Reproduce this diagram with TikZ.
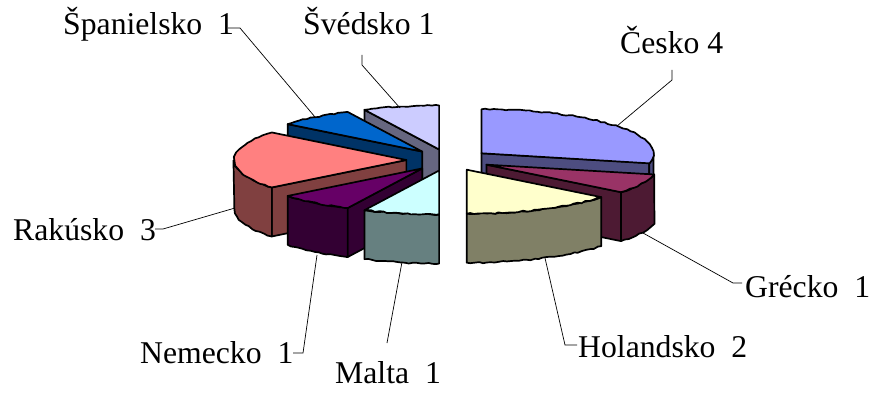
\documentclass[tikz,border=0pt]{standalone}
\usepackage{fontspec}
\setmainfont{Liberation Serif}
\usetikzlibrary{calc,decorations.pathmorphing}
\definecolor{cesT}{HTML}{9999FF}\definecolor{cesS}{HTML}{4D4D80}
\definecolor{greT}{HTML}{993366}\definecolor{greS}{HTML}{4D1A33}
\definecolor{holT}{HTML}{FFFFCC}\definecolor{holS}{HTML}{808066}
\definecolor{malT}{HTML}{CCFFFF}\definecolor{malS}{HTML}{668080}
\definecolor{nemT}{HTML}{660066}\definecolor{nemS}{HTML}{330033}
\definecolor{rakT}{HTML}{FF8080}\definecolor{rakS}{HTML}{804040}
\definecolor{spaT}{HTML}{0066CC}\definecolor{spaS}{HTML}{003366}
\definecolor{sveT}{HTML}{CCCCFF}\definecolor{sveS}{HTML}{666680}
\newcommand\slicecenter[2]{%
  \pgfmathsetmacro\tmpx{448.5+0.245*172*sin(#2)}%
  \pgfmathsetmacro\tmpy{160-0.245*44*cos(#2)}%
  \coordinate (#1) at (\tmpx,\tmpy);}
\newcommand\radface[3]{%
  \filldraw[edge,fill=#3] (#1) -- ++({#2-90}:172 and 44) -- ++(0,49) -- ++({#2+90}:172 and 44) -- cycle;}
\newcommand\rimface[4]{%
  \filldraw[edge,fill=#4] (#1) ++({#2-90}:172 and 44) decorate[wavy]{arc[start angle={#2-90}, end angle={#3-90}, x radius=172, y radius=44]} -- ++(0,49) decorate[wavy]{arc[start angle={#3-90}, end angle={#2-90}, x radius=172, y radius=44]} -- cycle;}
\newcommand\topface[4]{%
  \filldraw[edge,fill=#4] (#1) -- ++({#2-90}:172 and 44) decorate[wavy]{arc[start angle={#2-90}, end angle={#3-90}, x radius=172, y radius=44]} -- cycle;}
\begin{document}
\begin{tikzpicture}[x=1pt,y=-1pt,
  edge/.style={draw=black,line width=1.7pt,line join=round},
  wavy/.style={decoration={random steps,segment length=4pt,amplitude=0.7pt}},
  lead/.style={draw=black,line width=0.7pt},
  lab/.style={anchor=base west,inner sep=0pt,font=\fontsize{31.7}{38}\selectfont}]
\pgfmathsetseed{7}
\useasboundingbox[fill=white] (0,0) rectangle (874,393);
% slice centres
\slicecenter{cCes}{51.4286}
\slicecenter{cGre}{115.7143}
\slicecenter{cHol}{154.2857}
\slicecenter{cMal}{192.8571}
\slicecenter{cNem}{218.5714}
\slicecenter{cRak}{270}
\slicecenter{cSpa}{321.4286}
\slicecenter{cSve}{347.1429}
% right half
\radface{cCes}{102.8571}{cesS}
\rimface{cCes}{90}{102.8571}{cesS}
\topface{cCes}{0}{102.8571}{cesT}
\radface{cGre}{128.5714}{greS}
\rimface{cGre}{102.8571}{128.5714}{greS}
\topface{cGre}{102.8571}{128.5714}{greT}
\rimface{cHol}{128.5714}{180}{holS}
\topface{cHol}{128.5714}{180}{holT}
% left half
\radface{cSve}{334.2857}{sveS}
\topface{cSve}{334.2857}{360}{sveT}
\radface{cSpa}{308.5714}{spaS}
\topface{cSpa}{308.5714}{334.2857}{spaT}
\radface{cRak}{231.4286}{rakS}
\rimface{cRak}{231.4286}{270}{rakS}
\topface{cRak}{231.4286}{308.5714}{rakT}
\radface{cNem}{205.7143}{nemS}
\rimface{cNem}{205.7143}{231.4286}{nemS}
\topface{cNem}{205.7143}{231.4286}{nemT}
\rimface{cMal}{180}{205.7143}{malS}
\topface{cMal}{180}{205.7143}{malT}
% labels
\node[lab] (lsp) at (63,35) {Španielsko~~1};
\node[lab] (lsv) at (303,35) {Švédsko 1};
\node[lab] (lce) at (620,54) {Česko 4};
\node[lab] (lgr) at (745,297) {Grécko~~1};
\node[lab] (lho) at (578,357) {Holandsko~~2};
\node[lab] (lra) at (13,240) {Rakúsko~~3};
\node[lab] (lne) at (140,363) {Nemecko~~1};
\node[lab] (lma) at (335,383) {Malta~~1};
% leader points
\coordinate (sSpa) at (228,28); \coordinate (kSpa) at (240,28); \coordinate (eSpa) at (315,117);
\coordinate (sSve) at (362,55); \coordinate (kSve) at (362,65); \coordinate (eSve) at (400,108);
\coordinate (sCes) at (672,70); \coordinate (kCes) at (672,80); \coordinate (eCes) at (617,126);
\coordinate (sGre) at (742,283); \coordinate (kGre) at (733,283); \coordinate (eGre) at (643,233);
\coordinate (sHol) at (577,345); \coordinate (kHol) at (565,345); \coordinate (eHol) at (545,258);
\coordinate (sRak) at (155,229); \coordinate (kRak) at (163,229); \coordinate (eRak) at (235,208);
\coordinate (sNem) at (293,353); \coordinate (kNem) at (303,353); \coordinate (eNem) at (317,255);
\coordinate (sMal) at (387,343); \coordinate (eMal) at (402,262);
\draw[lead] (sSpa) -- (kSpa) -- (eSpa);
\draw[lead] (sSve) -- (kSve) -- (eSve);
\draw[lead] (sCes) -- (kCes) -- (eCes);
\draw[lead] (sGre) -- (kGre) -- (eGre);
\draw[lead] (sHol) -- (kHol) -- (eHol);
\draw[lead] (sRak) -- (kRak) -- (eRak);
\draw[lead] (sNem) -- (kNem) -- (eNem);
\draw[lead] (sMal) -- (eMal);
\end{tikzpicture}
\end{document}
